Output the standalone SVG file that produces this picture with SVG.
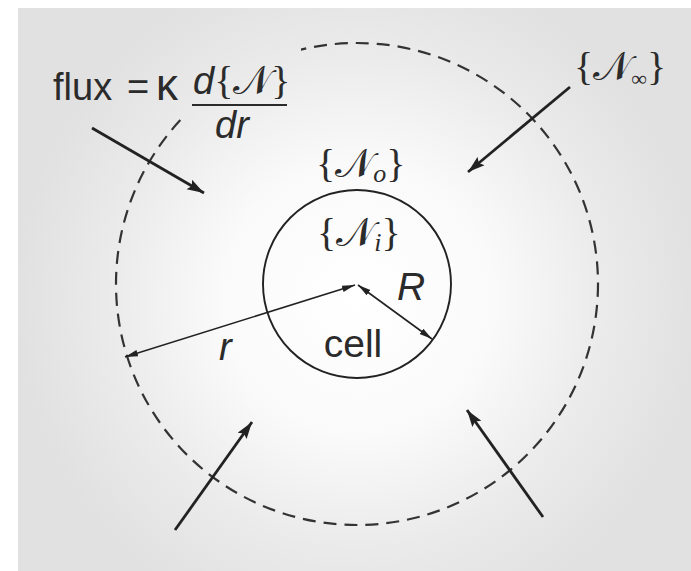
<svg xmlns="http://www.w3.org/2000/svg" width="691" height="571" viewBox="0 0 691 571">
  <defs>
    <radialGradient id="bg" gradientUnits="userSpaceOnUse" cx="357" cy="300" r="340">
      <stop offset="0" stop-color="#ffffff"/>
      <stop offset="0.4" stop-color="#fafafa"/>
      <stop offset="0.72" stop-color="#ebebeb"/>
      <stop offset="1" stop-color="#e1e1e1"/>
    </radialGradient>
    <mask id="labelGap" maskUnits="userSpaceOnUse" x="0" y="0" width="691" height="571">
      <rect x="0" y="0" width="691" height="571" fill="#fff"/>
      <rect x="181" y="38" width="120" height="78" fill="#000"/>
    </mask>
    <marker id="thin" markerUnits="userSpaceOnUse" markerWidth="14" markerHeight="8" refX="13" refY="4" orient="auto-start-reverse">
      <path d="M0,0.8 L13,4 L0,7.2 z" fill="#222"/>
    </marker>
    <marker id="thick" markerUnits="userSpaceOnUse" markerWidth="18" markerHeight="12" refX="17" refY="6" orient="auto">
      <path d="M0,0.5 L17,6 L0,11.5 L3,6 z" fill="#222"/>
    </marker>
  </defs>
  <style>
    .txt { font-family: "Liberation Sans", Arial, sans-serif; fill: #2b2b2b; }
    .set { font-family: "Liberation Serif", "DejaVu Serif", "Noto Sans", serif; fill: #2b2b2b; font-size: 40px; }
    .it { font-style: italic; }
    .thin { stroke: #222; stroke-width: 1.6; fill: none; marker-start: url(#thin); marker-end: url(#thin); }
    .flux { stroke: #222; stroke-width: 2.8; fill: none; marker-end: url(#thick); }
  </style>

  <rect x="0" y="0" width="691" height="571" fill="#ffffff"/>
  <rect x="18" y="8" width="673" height="563" fill="url(#bg)"/>

  <g id="outer-boundary">
    <circle cx="357" cy="284" r="241" fill="none" stroke="#333" stroke-width="2.2" stroke-dasharray="13 8" mask="url(#labelGap)"/>
  </g>

  <g id="cell">
    <circle cx="357" cy="284" r="94" fill="none" stroke="#222" stroke-width="1.9"/>
    <text class="txt" x="353" y="357" font-size="39" text-anchor="middle">cell</text>
  </g>

  <g id="connectors">
    <line class="thin" x1="125" y1="357" x2="355" y2="285"/>
    <line class="thin" x1="358" y1="285" x2="432" y2="339"/>
    <line class="flux" x1="92" y1="128" x2="204" y2="193"/>
    <line class="flux" x1="570" y1="87" x2="468" y2="172"/>
    <line class="flux" x1="175" y1="530" x2="252" y2="422"/>
    <line class="flux" x1="543" y1="517" x2="467" y2="410"/>
  </g>

  <g id="label-R">
    <text class="txt it" x="397" y="300" font-size="39">R</text>
  </g>
  <g id="label-r">
    <text class="txt it" x="219" y="360" font-size="38">r</text>
  </g>

  <g id="label-flux">
    <text class="txt" x="53" y="100" font-size="38">flux</text>
    <text class="txt" x="127" y="100" font-size="38">=</text>
    <text class="txt" x="156" y="100" font-size="44">κ</text>
    <text class="txt" x="193" y="94" font-size="38"><tspan class="it">d</tspan><tspan class="set" font-size="38">{𝒩}</tspan></text>
    <line x1="192" y1="105" x2="287" y2="105" stroke="#2b2b2b" stroke-width="2"/>
    <text class="txt it" x="232" y="138" font-size="38" text-anchor="middle">dr</text>
  </g>

  <g id="label-N-inf">
    <text class="set" x="574" y="80">{𝒩<tspan font-size="22" dy="6">∞</tspan><tspan dy="-6">}</tspan></text>
  </g>
  <g id="label-N-o">
    <text class="set" x="316" y="177">{𝒩<tspan class="it" font-size="26" dy="5">o</tspan><tspan dy="-5">}</tspan></text>
  </g>
  <g id="label-N-i">
    <text class="set" x="317" y="246">{𝒩<tspan class="it" font-size="26" dy="5">i</tspan><tspan dy="-5">}</tspan></text>
  </g>
</svg>
